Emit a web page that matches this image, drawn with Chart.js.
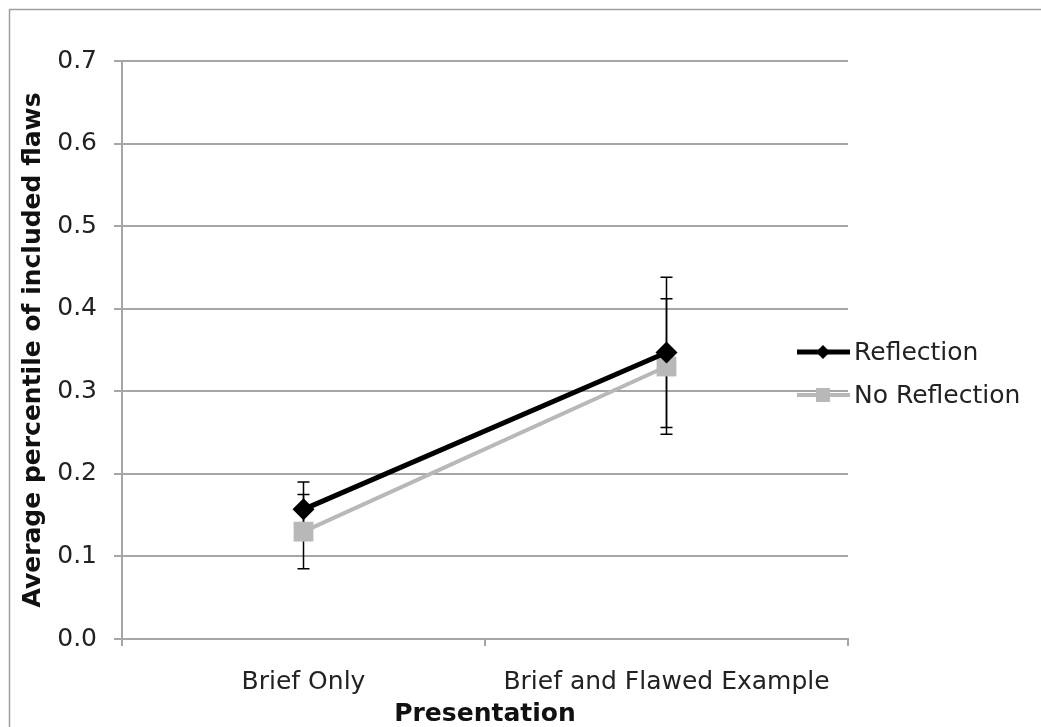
<!DOCTYPE html>
<html>
<head>
<meta charset="utf-8">
<script src="https://cdn.jsdelivr.net/npm/chart.js@4.4.0/dist/chart.umd.min.js"></script>
<style>
    body { margin: 0; background: #fff; }
    #wrap { width: 1041px; height: 727px; }
</style>
</head>
<body>
<div id="wrap"><canvas id="chart" width="1041" height="727"></canvas></div>
<script>
const categories = ['Brief Only', 'Brief and Flawed Example'];
const seriesNames = ['Reflection', 'No Reflection'];
const reflection = [0.157, 0.347];
const noReflection = [0.130, 0.330];
const reflectionErr = [0.033, 0.091];
const noReflectionErr = [0.045, 0.082];
const yTicks = [0.0, 0.1, 0.2, 0.3, 0.4, 0.5, 0.6, 0.7];

const FONT = "'DejaVu Sans', Verdana, sans-serif";
const GRID = '#a6a6a6';
const LIGHT = '#b8b8b8';

// error bars, drawn under the markers
const errorBars = {
    id: 'errorBars',
    beforeDatasetsDraw(chart) {
        const ctx = chart.ctx;
        const y = chart.scales.y;
        ctx.save();
        ctx.strokeStyle = '#000';
        ctx.lineWidth = 1.5;
        chart.data.datasets.forEach((ds, di) => {
            const meta = chart.getDatasetMeta(di);
            meta.data.forEach((pt, i) => {
                const v = ds.data[i];
                const e = ds.errors[i];
                const top = y.getPixelForValue(v + e);
                const bot = y.getPixelForValue(v - e);
                ctx.beginPath();
                ctx.moveTo(pt.x, top);
                ctx.lineTo(pt.x, bot);
                ctx.moveTo(pt.x - 6, top);
                ctx.lineTo(pt.x + 6, top);
                ctx.moveTo(pt.x - 6, bot);
                ctx.lineTo(pt.x + 6, bot);
                ctx.stroke();
            });
        });
        ctx.restore();
    }
};

// legend overlapping the plot's right edge, and the outer frame
const sideLegend = {
    id: 'sideLegend',
    afterDraw(chart) {
        const ctx = chart.ctx;
        const ca = chart.chartArea;
        ctx.save();

        ctx.strokeStyle = '#a0a0a0';
        ctx.lineWidth = 1.5;
        ctx.beginPath();
        ctx.moveTo(9.5, chart.height + 5);
        ctx.lineTo(9.5, 9.5);
        ctx.lineTo(chart.width + 5, 9.5);
        ctx.stroke();

        const x0 = ca.right - 51;
        const rows = [ca.top + 291, ca.top + 334];
        ctx.font = '25px ' + FONT;
        ctx.textBaseline = 'middle';
        chart.data.datasets.forEach((ds, i) => {
            const yy = rows[i];
            const cx = x0 + 26;
            ctx.strokeStyle = ds.borderColor;
            ctx.lineWidth = ds.borderWidth;
            ctx.beginPath();
            ctx.moveTo(x0, yy);
            ctx.lineTo(x0 + 53, yy);
            ctx.stroke();
            ctx.fillStyle = ds.pointBackgroundColor;
            ctx.beginPath();
            if (ds.pointStyle === 'rectRot') {
                ctx.moveTo(cx, yy - 7);
                ctx.lineTo(cx + 7, yy);
                ctx.lineTo(cx, yy + 7);
                ctx.lineTo(cx - 7, yy);
                ctx.closePath();
            } else {
                ctx.rect(cx - 7, yy - 7, 14, 14);
            }
            ctx.fill();
            ctx.fillStyle = '#222';
            ctx.fillText(ds.label, x0 + 57, yy + 1);
        });
        ctx.restore();
    }
};

new Chart(document.getElementById('chart'), {
    type: 'line',
    data: {
        labels: categories,
        datasets: [{
            label: seriesNames[0],
            data: reflection,
            errors: reflectionErr,
            borderColor: '#000',
            borderWidth: 5,
            pointStyle: 'rectRot',
            pointRadius: 11,
            pointHoverRadius: 11,
            pointBackgroundColor: '#000',
            pointBorderWidth: 0,
            tension: 0
        }, {
            label: seriesNames[1],
            data: noReflection,
            errors: noReflectionErr,
            borderColor: LIGHT,
            borderWidth: 4,
            pointStyle: 'rect',
            pointRadius: 14,
            pointHoverRadius: 14,
            pointBackgroundColor: LIGHT,
            pointBorderWidth: 0,
            tension: 0
        }]
    },
    options: {
        responsive: false,
        animation: false,
        events: [],
        layout: { padding: { left: 9, top: 61, right: 193, bottom: 0 } },
        plugins: {
            legend: { display: false },
            tooltip: { enabled: false }
        },
        scales: {
            x: {
                offset: true,
                grid: { drawOnChartArea: false, color: GRID, lineWidth: 2, tickLength: 7, offset: true },
                border: { color: GRID, width: 2 },
                ticks: { color: '#222', font: { family: FONT, size: 25 }, padding: 21, maxRotation: 0 },
                title: {
                    display: true,
                    text: 'Presentation',
                    color: '#111',
                    font: { family: FONT, size: 25, weight: 'bold', lineHeight: 1 },
                    padding: 0
                },
                afterFit(scale) { scale.height = 88; }
            },
            y: {
                min: 0,
                max: 0.7,
                afterBuildTicks(scale) { scale.ticks = yTicks.map(v => ({ value: v })); },
                grid: { color: GRID, lineWidth: 2, tickLength: 8 },
                border: { color: GRID, width: 2 },
                ticks: {
                    color: '#222',
                    font: { family: FONT, size: 25 },
                    padding: 17,
                    callback: v => v.toFixed(1)
                },
                title: {
                    display: true,
                    text: 'Average percentile of included flaws',
                    color: '#111',
                    font: { family: FONT, size: 25, weight: 'bold', lineHeight: 1 },
                    padding: { top: 12, bottom: 0 }
                },
                afterFit(scale) { scale.width = 113; }
            }
        }
    },
    plugins: [errorBars, sideLegend]
});
</script>
</body>
</html>
